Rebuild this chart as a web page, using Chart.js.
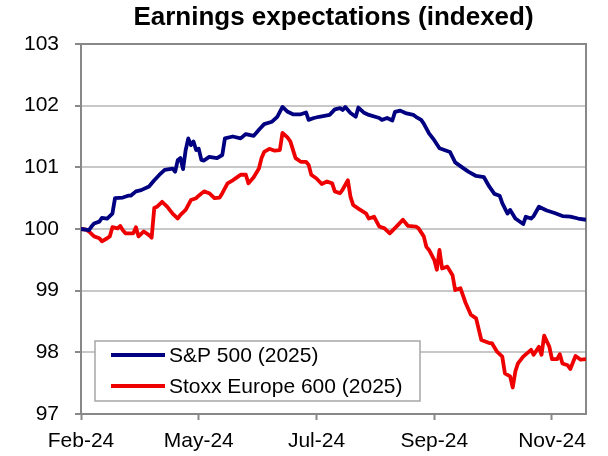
<!DOCTYPE html>
<html lang="en">
<head>
  <meta charset="UTF-8">
  <title>Earnings expectations (indexed)</title>
  <script src="https://cdn.jsdelivr.net/npm/chart.js"></script>
  <style>
    html, body { margin: 0; padding: 0; background: #fff; }
    #wrap { width: 608px; height: 456px; }
  </style>
</head>
<body>
  <div id="wrap"><canvas id="chart" width="608" height="456"></canvas></div>

  <script>
    // x positions are trading days since the start of the series
    var tickDays = [0, 45, 90, 135, 180];
    var tickLabels = ['Feb-24', 'May-24', 'Jul-24', 'Sep-24', 'Nov-24'];
    var lastDay = 193;

    var seriesNames = ['S&P 500 (2025)', 'Stoxx Europe 600 (2025)'];

    var spxDays = [0, 3, 4, 5, 7, 8, 10, 12, 13, 16, 18, 19, 21, 23, 26, 28, 30, 32, 35, 36, 37, 38, 39, 40, 41, 42, 43, 44, 45, 46, 47, 49, 52, 54, 55, 58, 61, 63, 66, 68, 70, 73, 75, 77, 79, 81, 84, 86, 87, 89, 91, 95, 97, 99, 100, 101, 103, 105, 106, 108, 110, 114, 115, 117, 119, 120, 122, 124, 127, 128, 130, 131, 133, 135, 137, 141, 143, 145, 148, 151, 154, 156, 158, 160, 161, 163, 164, 166, 169, 170, 172, 173, 175, 178, 181, 184, 187, 190, 193];
    var spxValues = [100.00, 99.98, 100.04, 100.09, 100.12, 100.18, 100.17, 100.25, 100.50, 100.51, 100.54, 100.54, 100.61, 100.63, 100.69, 100.79, 100.88, 100.96, 100.98, 100.93, 101.12, 101.15, 100.97, 101.28, 101.47, 101.36, 101.42, 101.28, 101.30, 101.12, 101.11, 101.17, 101.15, 101.20, 101.47, 101.50, 101.47, 101.54, 101.51, 101.61, 101.70, 101.74, 101.82, 101.98, 101.90, 101.86, 101.86, 101.89, 101.77, 101.80, 101.82, 101.85, 101.94, 101.96, 101.93, 101.98, 101.88, 101.82, 101.97, 101.89, 101.85, 101.80, 101.77, 101.80, 101.76, 101.90, 101.92, 101.88, 101.85, 101.82, 101.77, 101.71, 101.55, 101.44, 101.31, 101.25, 101.08, 101.02, 100.93, 100.86, 100.84, 100.69, 100.57, 100.54, 100.42, 100.25, 100.31, 100.17, 100.08, 100.20, 100.17, 100.21, 100.36, 100.30, 100.26, 100.21, 100.20, 100.17, 100.15];

    var stoxxDays = [0, 2, 3, 5, 7, 8, 10, 11, 12, 14, 15, 16, 17, 20, 21, 22, 24, 26, 27, 28, 29, 31, 33, 35, 37, 38, 40, 42, 44, 45, 47, 49, 51, 53, 54, 56, 58, 60, 61, 63, 64, 66, 68, 69, 70, 72, 74, 76, 77, 79, 80, 82, 84, 86, 87, 88, 90, 92, 94, 96, 97, 99, 100, 102, 103, 104, 106, 109, 110, 112, 114, 116, 118, 121, 123, 125, 128, 129, 131, 132, 133, 135, 136, 137, 138, 140, 142, 143, 145, 147, 149, 151, 153, 156, 157, 159, 161, 162, 164, 165, 166, 167, 169, 172, 173, 175, 176, 177, 179, 180, 182, 183, 184, 186, 187, 189, 191, 193];
    var stoxxValues = [100.00, 99.99, 99.96, 99.88, 99.85, 99.80, 99.85, 99.88, 100.03, 100.01, 100.05, 99.98, 99.93, 99.93, 100.03, 99.88, 99.96, 99.90, 99.86, 100.34, 100.36, 100.44, 100.36, 100.25, 100.17, 100.23, 100.31, 100.47, 100.50, 100.54, 100.61, 100.58, 100.50, 100.51, 100.58, 100.74, 100.79, 100.85, 100.88, 100.88, 100.74, 100.84, 100.98, 101.15, 101.25, 101.30, 101.27, 101.28, 101.56, 101.48, 101.42, 101.15, 101.09, 101.09, 101.04, 100.88, 100.82, 100.73, 100.77, 100.74, 100.61, 100.58, 100.64, 100.79, 100.52, 100.39, 100.33, 100.25, 100.17, 100.20, 100.04, 100.01, 99.93, 100.06, 100.15, 100.05, 100.04, 100.01, 99.88, 99.71, 99.66, 99.50, 99.34, 99.66, 99.36, 99.39, 99.25, 99.01, 99.04, 98.80, 98.61, 98.55, 98.20, 98.15, 98.15, 98.01, 97.93, 97.66, 97.61, 97.43, 97.69, 97.82, 97.93, 98.04, 97.96, 98.09, 97.96, 98.27, 98.09, 97.89, 97.89, 97.97, 97.82, 97.79, 97.73, 97.94, 97.88, 97.89];

    var FONT = "'Liberation Sans', Arial, sans-serif";
    var AXIS_GREY = '#888888';

    function toPoints(days, values) {
      return days.map(function(d, i) { return { x: d, y: values[i] }; });
    }

    // grey frame round the plot area (Excel style)
    var plotFrame = {
      id: 'plotFrame',
      beforeDatasetsDraw: function(chart) {
        var ca = chart.chartArea, ctx = chart.ctx;
        ctx.save();
        ctx.strokeStyle = AXIS_GREY;
        ctx.lineWidth = 2;
        ctx.strokeRect(ca.left, ca.top, ca.right - ca.left, ca.bottom - ca.top);
        ctx.restore();
      }
    };

    // boxed legend in the lower left of the plot
    var boxLegend = {
      id: 'boxLegend',
      afterDatasetsDraw: function(chart) {
        var ca = chart.chartArea, ctx = chart.ctx;
        var x = ca.left + 14, y = ca.bottom - 73, w = 325, h = 60;
        ctx.save();
        ctx.fillStyle = '#ffffff';
        ctx.fillRect(x, y, w, h);
        ctx.strokeStyle = '#a6a6a6';
        ctx.lineWidth = 1.5;
        ctx.strokeRect(x, y, w, h);
        ctx.font = '21px ' + FONT;
        ctx.textBaseline = 'middle';
        ctx.fillStyle = '#000000';
        chart.data.datasets.forEach(function(ds, i) {
          var ly = y + 14 + i * 31;
          ctx.strokeStyle = ds.borderColor;
          ctx.lineWidth = 3.8;
          ctx.beginPath();
          ctx.moveTo(x + 16, ly);
          ctx.lineTo(x + 70, ly);
          ctx.stroke();
          ctx.fillText(ds.label, x + 74, ly + 1);
        });
        ctx.restore();
      }
    };

    var ctx = document.getElementById('chart').getContext('2d');
    new Chart(ctx, {
      type: 'line',
      data: {
        datasets: [
          {
            label: seriesNames[0],
            data: toPoints(spxDays, spxValues),
            borderColor: '#000080',
            borderWidth: 3.8,
            pointRadius: 0,
            tension: 0,
            borderJoinStyle: 'round'
          },
          {
            label: seriesNames[1],
            data: toPoints(stoxxDays, stoxxValues),
            borderColor: '#ee0000',
            borderWidth: 3.8,
            pointRadius: 0,
            tension: 0,
            borderJoinStyle: 'round'
          }
        ]
      },
      options: {
        responsive: false,
        animation: false,
        devicePixelRatio: 1,
        layout: { padding: { left: 22, right: 22, top: 0, bottom: 0 } },
        plugins: {
          legend: { display: false },
          tooltip: { enabled: false },
          title: {
            display: true,
            fullSize: false,
            text: 'Earnings expectations (indexed)',
            color: '#000000',
            font: { family: FONT, size: 26, weight: 'bold' },
            padding: { top: 2, bottom: 10.8 }
          }
        },
        scales: {
          x: {
            type: 'linear',
            min: 0,
            max: lastDay,
            afterBuildTicks: function(axis) {
              axis.ticks = tickDays.map(function(d) { return { value: d }; });
            },
            afterFit: function(axis) { axis.height = 42; },
            grid: { drawOnChartArea: false, tickLength: 6, tickColor: AXIS_GREY, tickWidth: 2 },
            border: { color: AXIS_GREY, width: 2 },
            ticks: {
              autoSkip: false,
              maxRotation: 0,
              padding: 9,
              color: '#000000',
              font: { family: FONT, size: 21 },
              callback: function(value) {
                var i = tickDays.indexOf(value);
                return i >= 0 ? tickLabels[i] : null;
              }
            }
          },
          y: {
            min: 97,
            max: 103,
            afterFit: function(axis) { axis.width = 59; },
            grid: { color: '#c8c8c8', lineWidth: 2, tickLength: 6, tickColor: AXIS_GREY, tickWidth: 2 },
            border: { color: AXIS_GREY, width: 2 },
            ticks: {
              stepSize: 1,
              padding: 16,
              color: '#000000',
              font: { family: FONT, size: 21 }
            }
          }
        }
      },
      plugins: [plotFrame, boxLegend]
    });
  </script>
</body>
</html>
